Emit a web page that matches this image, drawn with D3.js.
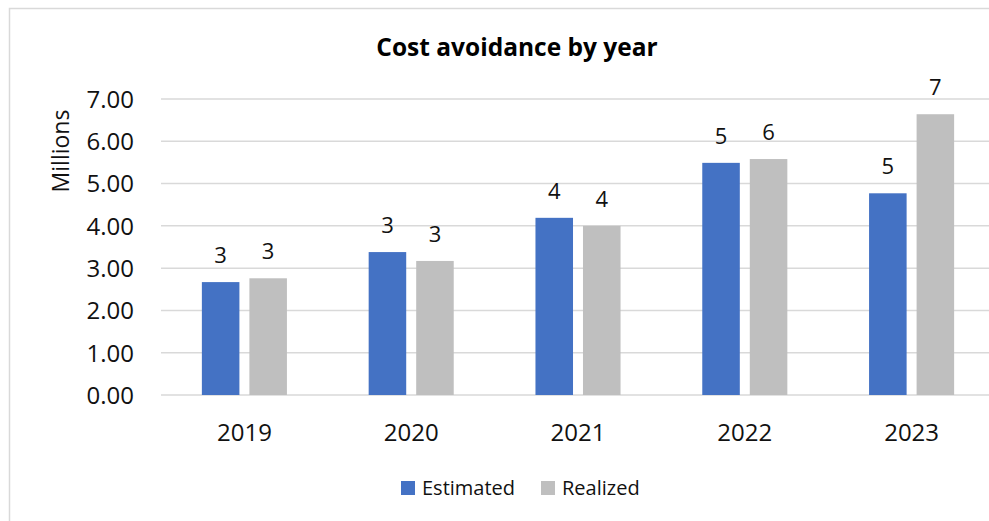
<!DOCTYPE html>
<html>
<head>
<meta charset="utf-8">
<script src="https://cdn.jsdelivr.net/npm/d3@7"></script>
<style>
  html, body { margin: 0; padding: 0; background: #fff; }
  svg { display: block; font-family: "Open Sans", "Noto Sans", sans-serif; }
</style>
</head>
<body>
<svg id="chart" width="989" height="521"></svg>
<script>
const years = ["2019", "2020", "2021", "2022", "2023"];
const seriesNames = ["Estimated", "Realized"];
const estimated = [2.67, 3.38, 4.19, 5.49, 4.77];
const realized = [2.76, 3.17, 4.00, 5.58, 6.64];
const yTicks = [0, 1, 2, 3, 4, 5, 6, 7];
const colors = ["#4472C4", "#BFBFBF"];
const chartTitle = "Cost avoidance by year";
const yTitle = "Millions";

(function () {
const svg = d3.select("#chart");
svg.append("rect").attr("width", 989).attr("height", 521).attr("fill", "#fff");
svg.append("rect").attr("x", 9.5).attr("y", 8.5).attr("width", 1100).attr("height", 1000)
  .attr("fill", "none").attr("stroke", "#d9d9d9").attr("stroke-width", 1.5);

const pL = 161, pR = 995, pT = 99, pB = 395;
const x = d3.scaleBand().domain(years).range([pL, pR]).paddingInner(0.49).paddingOuter(0.245);
const xs = d3.scaleBand().domain(seriesNames).range([0, x.bandwidth()]).paddingInner(0.21).paddingOuter(0);
const y = d3.scaleLinear().domain([0, 7]).range([pB, pT]);
const color = d3.scaleOrdinal().domain(seriesNames).range(colors);

// gridlines
svg.append("g").selectAll("line").data(yTicks).join("line")
  .attr("x1", pL).attr("x2", pR)
  .attr("y1", d => y(d)).attr("y2", d => y(d))
  .attr("stroke", "#d9d9d9").attr("stroke-width", 1.5);

// y axis labels
const yAxis = d3.axisLeft(y).tickValues(yTicks).tickFormat(d3.format(".2f")).tickSize(0).tickPadding(0);
const gy = svg.append("g").attr("transform", `translate(${pL - 27},0)`).call(yAxis);
gy.select(".domain").remove();
gy.selectAll("text").attr("font-size", 24).attr("fill", "#111").attr("font-family", "'Open Sans', sans-serif").attr("dy", "0.35em");

// x axis labels
const xAxis = d3.axisBottom(x).tickSize(0).tickPadding(0);
const gx = svg.append("g").attr("transform", `translate(0,${pB})`).call(xAxis);
gx.select(".domain").remove();
gx.selectAll("text").attr("font-size", 24).attr("fill", "#111").attr("font-family", "'Open Sans', sans-serif")
  .attr("dy", null).attr("y", 45.5);

const data = [];
years.forEach((yr, i) => {
  data.push({ year: yr, series: "Estimated", value: estimated[i] });
  data.push({ year: yr, series: "Realized", value: realized[i] });
});

// bars
svg.append("g").selectAll("rect").data(data).join("rect")
  .attr("x", d => x(d.year) + xs(d.series))
  .attr("width", xs.bandwidth())
  .attr("y", d => y(d.value))
  .attr("height", d => y(0) - y(d.value))
  .attr("fill", d => color(d.series));

// data labels
svg.append("g").selectAll("text").data(data).join("text")
  .attr("x", d => x(d.year) + xs(d.series) + xs.bandwidth() / 2)
  .attr("y", d => y(d.value) - 19)
  .attr("text-anchor", "middle")
  .attr("font-size", 22).attr("fill", "#111")
  .text(d => d3.format(".0f")(d.value));

// title
svg.append("text").attr("x", 517).attr("y", 56).attr("text-anchor", "middle")
  .attr("font-size", 24.5).attr("font-weight", "bold").attr("fill", "#000")
  .text(chartTitle);

// y title
svg.append("text").attr("transform", "translate(69,151) rotate(-90)")
  .attr("text-anchor", "middle").attr("font-size", 23).attr("fill", "#111")
  .text(yTitle);

// legend
const legendX = [401, 541];
const lg = svg.append("g").selectAll("g").data(seriesNames).join("g")
  .attr("transform", (d, i) => `translate(${legendX[i]},481)`);
lg.append("rect").attr("width", 14).attr("height", 14).attr("fill", d => color(d));
lg.append("text").attr("x", 21).attr("y", 14).attr("font-size", 20).attr("fill", "#111").text(d => d);
})();
</script>
</body>
</html>
